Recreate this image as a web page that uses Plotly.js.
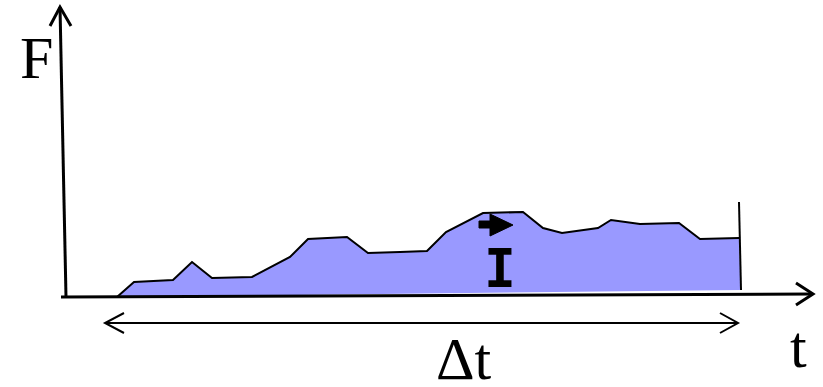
<!DOCTYPE html>
<html>
<head>
<meta charset="utf-8">
<script src="https://cdn.plot.ly/plotly-3.0.1.min.js"></script>
<style>html,body{margin:0;padding:0;background:#fff;}#chart{width:823px;height:387px;}</style>
</head>
<body>
<div id="chart"></div>
<script>
// Schematic force-time curve (arbitrary units)
const tValues = [52, 69, 108, 127, 147, 187, 225, 243, 282, 303, 335, 362, 381, 418, 458, 478, 497, 533, 546, 575, 614, 635, 674];
const fValues = [0, 15, 17, 35, 19, 20, 40, 58, 60, 44, 45, 46, 65, 84, 85, 69, 64, 69, 77, 73, 74, 58, 59];
// end of the interval and base of the shaded area
const tEnd = [674, 676];
const fEnd = [95, 7];
const baseT = [676, 52];
const baseF = [7, 0];
// labels
const labelTexts = ["F", "t", "\u0394t"];

const fillT = tValues.concat(baseT);
const fillF = fValues.concat(baseF);

const traces = [
  {x: fillT, y: fillF, type: 'scatter', mode: 'lines', fill: 'toself',
   fillcolor: '#9999ff', line: {width: 0, color: 'rgba(0,0,0,0)'}, hoverinfo: 'skip'},
  {x: tValues, y: fValues, type: 'scatter', mode: 'lines',
   line: {color: '#000', width: 2}, hoverinfo: 'skip'},
  {x: tEnd, y: fEnd, type: 'scatter', mode: 'lines',
   line: {color: '#000', width: 2}, hoverinfo: 'skip'}
];

const blk = {color: '#000', width: 3};
const thin = {color: '#000', width: 2};
const shapes = [
  // F axis
  {type: 'line', x0: 1, y0: 0, x1: -5, y1: 290, line: blk},
  {type: 'path', path: 'M -15 271 L -5 290 L 6 271', line: blk},
  // t axis
  {type: 'line', x0: -4, y0: 0, x1: 747, y1: 3, line: blk},
  {type: 'path', path: 'M 731 14 L 748 3 L 731 -8', line: blk},
  // delta t double arrow
  {type: 'line', x0: 40, y0: -26, x1: 673, y1: -26, line: thin},
  {type: 'path', path: 'M 59 -16 L 40 -26 L 59 -36', line: thin},
  {type: 'path', path: 'M 655 -16 L 673 -26 L 655 -36', line: thin},
  // small arrow inside area
  {type: 'path', path: 'M 414 76 L 425 76 L 425 83 L 448 72 L 425 61 L 425 69 L 414 69 Z',
   fillcolor: '#000', line: {color: '#000', width: 1}}
];

const serif = 'Liberation Serif, Times New Roman, serif';
const annotations = [
  {x: -29, y: 239, text: labelTexts[0], showarrow: false, font: {family: serif, size: 60, color: '#000'}},
  {x: 733, y: -50, text: labelTexts[1], showarrow: false, font: {family: serif, size: 60, color: '#000'}},
  {x: 399, y: -62, text: labelTexts[2], showarrow: false, font: {family: serif, size: 60, color: '#000'}},
  {x: 435, y: 29, text: '<b>I</b>', showarrow: false, font: {family: 'DejaVu Sans Mono', size: 53, color: '#000'}}
];

const layout = {
  width: 823, height: 387,
  margin: {l: 0, r: 0, t: 0, b: 0},
  paper_bgcolor: '#fff', plot_bgcolor: '#fff',
  showlegend: false,
  xaxis: {range: [-65, 758], visible: false, fixedrange: true},
  yaxis: {range: [-90, 297], visible: false, fixedrange: true},
  shapes: shapes,
  annotations: annotations
};

Plotly.newPlot('chart', traces, layout, {staticPlot: true, displayModeBar: false});
</script>
</body>
</html>
